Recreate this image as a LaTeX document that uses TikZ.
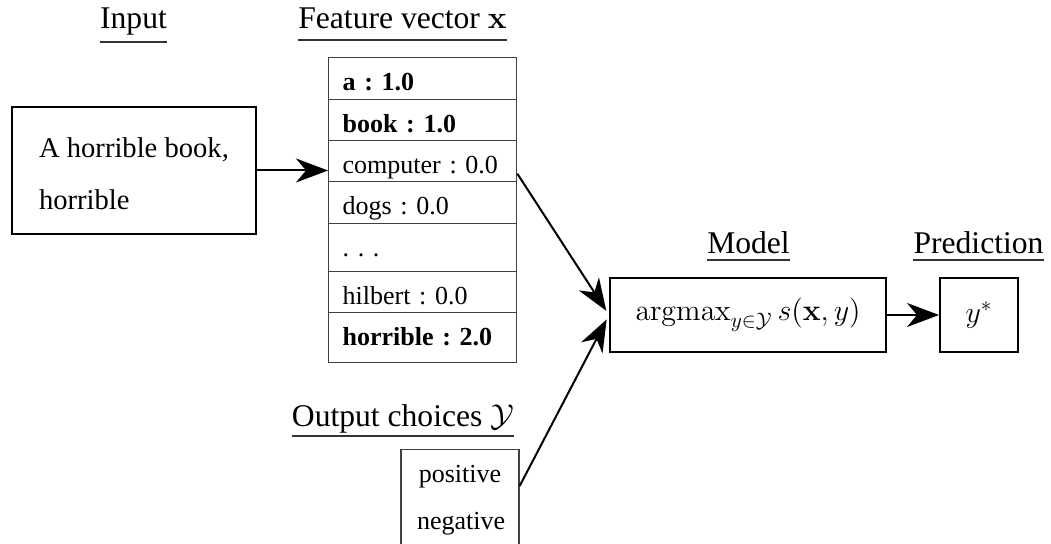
\RequirePackage{fix-cm}
\documentclass[tikz,border=0pt]{standalone}
\usepackage{amsmath}
\usepackage[no-math]{fontspec}
\setmainfont{Liberation Serif}
\usetikzlibrary{arrows.meta}
\frenchspacing

\tikzset{
  head/.style={anchor=base, inner sep=0pt, font=\fontsize{15.8}{19}\selectfont},
  uline/.style={line width=0.7pt, black!80},
  box/.style={draw, line width=1pt},
  frow/.style={draw=black!75, line width=0.65pt, anchor=north west,
    text width=80pt, inner xsep=7pt, inner ysep=0pt, align=left,
    text height=16.5pt, font=\fontsize{13}{16}\selectfont},
  arr/.style={line width=1pt, -{Stealth[length=16pt,width=12pt,inset=5pt]}}
}

\begin{document}
\begin{tikzpicture}[x=0.5pt,y=-0.5pt]
\useasboundingbox (0,0) rectangle (1051,544);
\clip (0,0) rectangle (1051,544);

% column headings
\node[head] (hIn) at (133.5,29) {Input};
\node[head] (hFeat) at (402.5,29) {Feature vector $\mathbf{x}$};
\node[head] (hModel) at (748.5,254) {Model};
\node[head] (hPred) at (978.5,254) {Prediction};
\node[head] (hOut) at (403,427) {Output choices $\mathcal{Y}$};
\draw[uline] ([yshift=-6.5pt]hIn.base west) -- ([yshift=-6.5pt]hIn.base east);
\draw[uline] ([yshift=-5.5pt]hFeat.base west) -- ([yshift=-5.5pt]hFeat.base east);
\draw[uline] ([yshift=-3pt]hModel.base west) -- ([yshift=-3pt]hModel.base east);
\draw[uline] ([yshift=-3pt]hPred.base west) -- ([yshift=-3pt]hPred.base east);
\draw[uline] ([yshift=-4.5pt]hOut.base west) -- ([yshift=-4.5pt]hOut.base east);

% input text (box height measured above the last line)
\node[box, minimum width=122pt, minimum height=63.5pt, align=left,
      text height=38.6pt, text depth=0pt,
      font=\fontsize{14.3}{26}\selectfont] (inp) at (134,170.5)
      {A horrible book,\\horrible};

% feature vector, one row per entry
\node[frow, text depth=4.5pt] (f1) at (328,57)  {\textbf{a : 1.0}};
\node[frow, text depth=4pt]   (f2) at (328,99)  {\textbf{book : 1.0}};
\node[frow, text depth=4pt]   (f3) at (328,140) {computer : 0.0};
\node[frow, text depth=4.5pt] (f4) at (328,181) {dogs : 0.0};
\node[frow, text depth=7.5pt] (f5) at (328,223) {. . .};
\node[frow, text depth=4pt]   (f6) at (328,271) {hilbert : 0.0};
\node[frow, text depth=8.5pt] (f7) at (328,312) {\textbf{horrible : 2.0}};

% output choices
\node[draw=black!75, line width=0.65pt, anchor=north, text width=43pt, inner xsep=8pt,
      inner ysep=0pt, align=center, text height=16.5pt, text depth=45pt,
      font=\fontsize{13}{23.5}\selectfont] (ybox) at (460,449)
      {positive\\negative};

% model and prediction
\node[box, minimum width=138pt, minimum height=37pt, font=\fontsize{15}{18}\selectfont]
      (model) at (748,315) {$\operatorname{argmax}_{y\in\mathcal{Y}} s(\mathbf{x},y)$};
\node[box, minimum width=39pt, minimum height=37pt, font=\fontsize{15}{18}\selectfont]
      (pred) at (979,315) {$y^*$};

% connectors
\draw[arr] (inp.east) -- (inp.east -| f3.west);
\draw[arr, shorten >=2.5pt] (f3.base east) -- (model.west);
\draw[arr, shorten >=2.5pt] ([yshift=-18.5pt]ybox.north east) -- (model.west);
\draw[arr] (model.east) -- (pred.west);
\end{tikzpicture}
\end{document}
